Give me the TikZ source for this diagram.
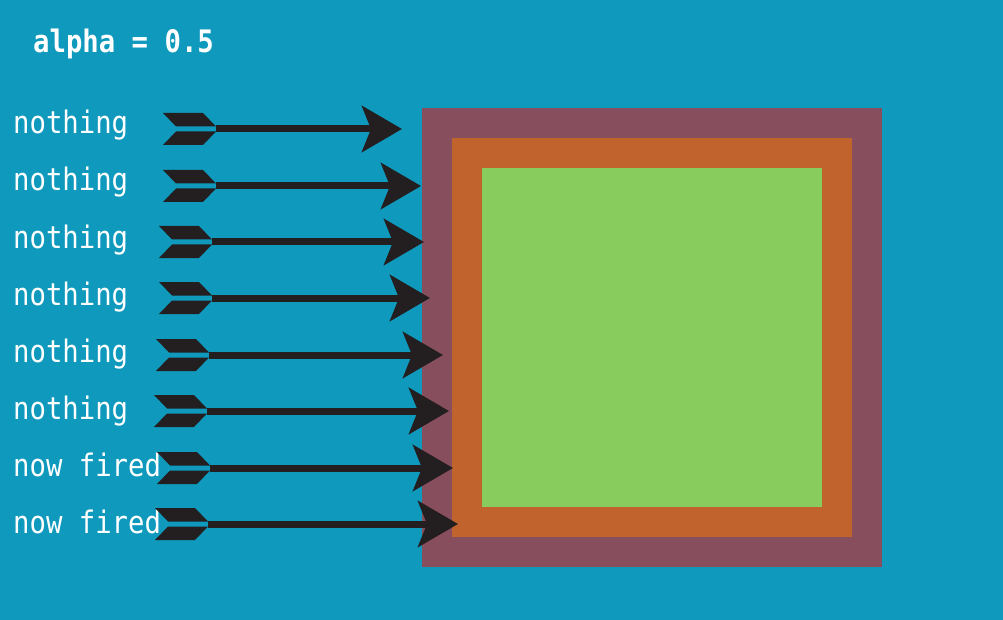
\documentclass[tikz,border=0pt]{standalone}
\usepackage{fontspec}
\setmonofont{DejaVu Sans Mono}[FakeStretch=0.88]
\usetikzlibrary{arrows.meta}

\definecolor{seablue}{HTML}{0F99BD}
\definecolor{plum}{HTML}{874E5E}
\definecolor{rust}{HTML}{C0632C}
\definecolor{leaf}{HTML}{89CC5E}
\definecolor{ink}{HTML}{231F20}

\tikzset{
  fletching/.pic={
    \fill[ink] (0,-16) -- (40,-16) -- (53,-2.5) -- (13,-2.5) -- cycle;
    \fill[ink] (13,2.5) -- (53,2.5) -- (40,16) -- (0,16) -- cycle;
  }
}

\begin{document}
\begin{tikzpicture}[x=1pt,y=-1pt,
    word/.style={text=white,font=\ttfamily\fontsize{31}{31}\selectfont,anchor=base west,inner sep=0pt},
    layer/.style={inner sep=0pt,outer sep=0pt,anchor=north west},
    shaft/.style={ink,line width=7pt,-{Stealth[length=40pt,width=46pt,inset=9pt]}}]

   % Background
      \useasboundingbox (0,0) rectangle (1003,620);
      \fill[seablue] (0,0) rectangle (1003,620);

   % Nodes
      \node[word,font=\ttfamily\bfseries\fontsize{31}{31}\selectfont] (alpha) at (33,53)  {alpha = 0.5};
      \node[word] (lbl1) at (13,134) {nothing};
      \node[word] (lbl2) at (13,191) {nothing};
      \node[word] (lbl3) at (13,248) {nothing};
      \node[word] (lbl4) at (13,305) {nothing};
      \node[word] (lbl5) at (13,362) {nothing};
      \node[word] (lbl6) at (13,419) {nothing};
      \node[word] (lbl7) at (13,476) {now fired};
      \node[word] (lbl8) at (13,533) {now fired};

      \node[layer,fill=plum,minimum width=460pt,minimum height=459pt] (outer) at (422,108) {};
      \node[layer,fill=rust,minimum width=400pt,minimum height=399pt] (mid)   at (452,138) {};
      \node[layer,fill=leaf,minimum width=340pt,minimum height=339pt] (inner) at (482,168) {};

   % Arrow ends
      \coordinate (tail1) at (216,129); \coordinate (head1) at (402,129);
      \coordinate (tail2) at (216,186); \coordinate (head2) at (421,186);
      \coordinate (tail3) at (212,242); \coordinate (head3) at (424,242);
      \coordinate (tail4) at (212,298); \coordinate (head4) at (430,298);
      \coordinate (tail5) at (209,355); \coordinate (head5) at (443,355);
      \coordinate (tail6) at (207,411); \coordinate (head6) at (449,411);
      \coordinate (tail7) at (210,468); \coordinate (head7) at (453,468);
      \coordinate (tail8) at (208,524); \coordinate (head8) at (458,524);

   % Arrows
      \pic at (163,129) {fletching};
      \pic at (163,186) {fletching};
      \pic at (159,242) {fletching};
      \pic at (159,298) {fletching};
      \pic at (156,355) {fletching};
      \pic at (154,411) {fletching};
      \pic at (157,468) {fletching};
      \pic at (155,524) {fletching};

      \draw[shaft] (tail1) -- (head1);
      \draw[shaft] (tail2) -- (head2);
      \draw[shaft] (tail3) -- (head3);
      \draw[shaft] (tail4) -- (head4);
      \draw[shaft] (tail5) -- (head5);
      \draw[shaft] (tail6) -- (head6);
      \draw[shaft] (tail7) -- (head7);
      \draw[shaft] (tail8) -- (head8);
\end{tikzpicture}
\end{document}
